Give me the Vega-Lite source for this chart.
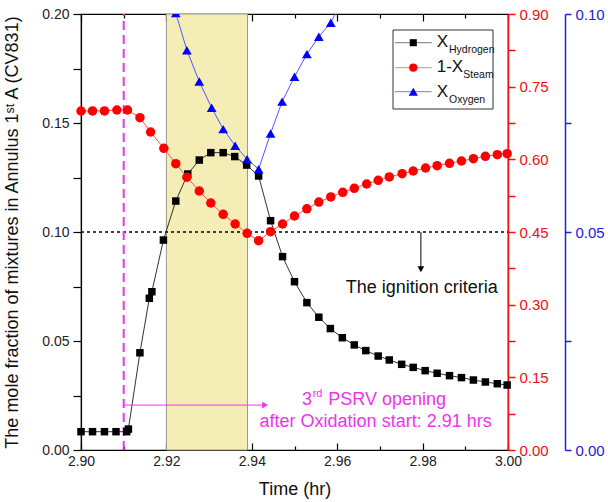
{
  "$schema": "https://vega.github.io/schema/vega-lite/v6.json",
  "width": 427,
  "height": 436,
  "autosize": {"type": "none"},
  "padding": {"left": 81, "top": 14, "right": 100, "bottom": 52},
  "config": {
    "view": {"stroke": "#000", "strokeWidth": 1.2},
    "font": "Liberation Sans",
    "axis": {
      "labelFont": "Liberation Sans",
      "titleFont": "Liberation Sans",
      "grid": false,
      "labelFontSize": 14,
      "titleFontSize": 18,
      "titleFontWeight": "normal",
      "labelColor": "#222",
      "titleColor": "#111",
      "domainColor": "#000",
      "tickColor": "#000",
      "domainWidth": 1.2,
      "tickWidth": 1.2,
      "labelOverlap": false,
      "labelFlush": false
    }
  },
  "datasets": {
    "h2": [
      {"t": 2.9000, "v": 0.0084}, {"t": 2.9027, "v": 0.0084}, {"t": 2.9055, "v": 0.0084}, {"t": 2.9082, "v": 0.0084},
      {"t": 2.9107, "v": 0.0084}, {"t": 2.9111, "v": 0.0096}, {"t": 2.9138, "v": 0.0446}, {"t": 2.9160, "v": 0.0696},
      {"t": 2.9166, "v": 0.0726}, {"t": 2.9193, "v": 0.0963}, {"t": 2.9222, "v": 0.1142}, {"t": 2.9250, "v": 0.1266},
      {"t": 2.9277, "v": 0.1330}, {"t": 2.9304, "v": 0.1364}, {"t": 2.9333, "v": 0.1364}, {"t": 2.9360, "v": 0.1346},
      {"t": 2.9388, "v": 0.1307}, {"t": 2.9416, "v": 0.1257}, {"t": 2.9444, "v": 0.1052}, {"t": 2.9472, "v": 0.0887},
      {"t": 2.9500, "v": 0.0772}, {"t": 2.9529, "v": 0.0676}, {"t": 2.9557, "v": 0.0609}, {"t": 2.9584, "v": 0.0557},
      {"t": 2.9612, "v": 0.0515}, {"t": 2.9640, "v": 0.0482}, {"t": 2.9667, "v": 0.0456}, {"t": 2.9696, "v": 0.0431},
      {"t": 2.9722, "v": 0.0413}, {"t": 2.9751, "v": 0.0393}, {"t": 2.9778, "v": 0.0379}, {"t": 2.9806, "v": 0.0364},
      {"t": 2.9834, "v": 0.0352}, {"t": 2.9863, "v": 0.0341}, {"t": 2.9891, "v": 0.0332}, {"t": 2.9919, "v": 0.0321},
      {"t": 2.9947, "v": 0.0312}, {"t": 2.9975, "v": 0.0304}, {"t": 2.9998, "v": 0.0298}
    ],
    "steam": [
      {"t": 2.9000, "v": 0.6998}, {"t": 2.9027, "v": 0.7000}, {"t": 2.9055, "v": 0.7000}, {"t": 2.9084, "v": 0.7018},
      {"t": 2.9109, "v": 0.7018}, {"t": 2.9138, "v": 0.6860}, {"t": 2.9163, "v": 0.6564}, {"t": 2.9194, "v": 0.6228},
      {"t": 2.9222, "v": 0.5910}, {"t": 2.9248, "v": 0.5630}, {"t": 2.9277, "v": 0.5346}, {"t": 2.9304, "v": 0.5099},
      {"t": 2.9333, "v": 0.4865}, {"t": 2.9361, "v": 0.4665}, {"t": 2.9389, "v": 0.4473}, {"t": 2.9416, "v": 0.4320},
      {"t": 2.9444, "v": 0.4506}, {"t": 2.9472, "v": 0.4665}, {"t": 2.9500, "v": 0.4830}, {"t": 2.9529, "v": 0.4978},
      {"t": 2.9557, "v": 0.5117}, {"t": 2.9585, "v": 0.5223}, {"t": 2.9613, "v": 0.5320}, {"t": 2.9640, "v": 0.5402},
      {"t": 2.9669, "v": 0.5491}, {"t": 2.9696, "v": 0.5567}, {"t": 2.9722, "v": 0.5636}, {"t": 2.9752, "v": 0.5704},
      {"t": 2.9778, "v": 0.5759}, {"t": 2.9807, "v": 0.5821}, {"t": 2.9834, "v": 0.5869}, {"t": 2.9863, "v": 0.5918},
      {"t": 2.9891, "v": 0.5966}, {"t": 2.9919, "v": 0.6013}, {"t": 2.9947, "v": 0.6063}, {"t": 2.9975, "v": 0.6096},
      {"t": 2.9998, "v": 0.6116}
    ],
    "o2": [
      {"t": 2.9194, "v": 0.1090}, {"t": 2.9222, "v": 0.1002}, {"t": 2.9248, "v": 0.0917}, {"t": 2.9277, "v": 0.0845},
      {"t": 2.9306, "v": 0.0785}, {"t": 2.9333, "v": 0.0736}, {"t": 2.9361, "v": 0.0698}, {"t": 2.9389, "v": 0.0667},
      {"t": 2.9416, "v": 0.0644}, {"t": 2.9444, "v": 0.0726}, {"t": 2.9471, "v": 0.0799}, {"t": 2.9500, "v": 0.0856},
      {"t": 2.9529, "v": 0.0908}, {"t": 2.9557, "v": 0.0948}, {"t": 2.9585, "v": 0.0980}, {"t": 2.9613, "v": 0.1035}
    ],
    "band": [{"t1": 2.92, "t2": 2.939, "y1": 0, "y2": 0.2}],
    "criteria": [{"t1": 2.90, "t2": 3.00, "v": 0.10}],
    "opening": [{"t": 2.91, "v1": 0, "v2": 0.2}],
    "psrvArrow": [{"t1": 2.91, "t2": 2.9431, "v": 0.0206}],
    "ignArrow": [{"t": 2.9796, "v1": 0.1, "v2": 0.0832}],
    "psrvHead": [{"t": 2.9431, "v": 0.0206}],
    "ignHead": [{"t": 2.9796, "v": 0.0829}],
    "ignText": [{"t": 2.9798, "v": 0.0719, "label": "The ignition criteria"}],
    "magCenter": [{"t": 2.9690, "v": 0.0107, "label": "after Oxidation start: 2.91 hrs"}],
    "magRight": [{"t": 2.9541, "v": 0.0206, "label": "3"}],
    "magLeft": [{"t": 2.9579, "v": 0.0206, "label": "PSRV opening"}],
    "supText": [{"t": 2.95426, "v": 0.0241, "label": "rd"}],
    "legendBox": [{"t1": 2.97307, "t2": 2.99649, "v1": 0.15642, "v2": 0.19266}],
    "legendKey": [
      {"s": "h", "t1": 2.97354, "t2": 2.98213, "tm": 2.97782, "v": 0.18683},
      {"s": "s", "t1": 2.97354, "t2": 2.98213, "tm": 2.97782, "v": 0.17537},
      {"s": "o", "t1": 2.97354, "t2": 2.98213, "tm": 2.97782, "v": 0.16436}
    ],
    "legendMain": [
      {"t": 2.98330, "v": 0.18500, "label": "X"},
      {"t": 2.98330, "v": 0.17353, "label": "1-X"},
      {"t": 2.98330, "v": 0.16206, "label": "X"}
    ],
    "legendSub": [
      {"t": 2.98618, "v": 0.18197, "label": "Hydrogen"},
      {"t": 2.98953, "v": 0.17050, "label": "Steam"},
      {"t": 2.98618, "v": 0.15903, "label": "Oxygen"}
    ]
  },
  "layer": [
    {
      "data": {"name": "band"},
      "mark": {"type": "rect", "fill": "#F4EDB6", "stroke": "#9a9a8a", "strokeWidth": 1},
      "encoding": {
        "x": {"field": "t1", "type": "quantitative", "scale": {"domain": [2.9, 3.0], "nice": false, "zero": false},
          "axis": {"orient": "top", "title": null, "labels": false, "domain": false,
            "values": [2.90, 2.91, 2.92, 2.93, 2.94, 2.95, 2.96, 2.97, 2.98, 2.99, 3.00],
            "tickSize": {"condition": {"test": "round(datum.value*100) % 2 == 0", "value": -7}, "value": -4}}},
        "x2": {"field": "t2"},
        "y": {"field": "y1", "type": "quantitative", "scale": {"domain": [0, 0.2], "nice": false, "zero": false}, "axis": null},
        "y2": {"field": "y2"}
      }
    },
    {
      "data": {"name": "criteria"},
      "mark": {"type": "rule", "color": "#000", "strokeWidth": 1.5, "strokeDash": [3, 3]},
      "encoding": {
        "x": {"field": "t1", "type": "quantitative", "axis": null},
        "x2": {"field": "t2"},
        "y": {"field": "v", "type": "quantitative", "scale": {"domain": [0, 0.2], "nice": false, "zero": false}, "axis": null}
      }
    },
    {
      "data": {"name": "opening"},
      "mark": {"type": "rule", "color": "#EE33EE", "strokeWidth": 2, "strokeDash": [9, 5]},
      "encoding": {
        "x": {"field": "t", "type": "quantitative", "axis": null},
        "y": {"field": "v1", "type": "quantitative", "scale": {"domain": [0, 0.2], "nice": false, "zero": false}, "axis": null},
        "y2": {"field": "v2"}
      }
    },
    {
      "data": {"name": "h2"},
      "mark": {"type": "line", "color": "#333", "strokeWidth": 1},
      "encoding": {
        "x": {"field": "t", "type": "quantitative", "axis": null},
        "y": {"field": "v", "type": "quantitative", "scale": {"domain": [0, 0.2], "nice": false, "zero": false}, "axis": null}
      }
    },
    {
      "data": {"name": "h2"},
      "mark": {"type": "point", "shape": "square", "filled": true, "color": "#000", "size": 56, "opacity": 1},
      "encoding": {
        "x": {"field": "t", "type": "quantitative",
          "axis": {"orient": "bottom", "title": "Time (hr)",
            "values": [2.90, 2.91, 2.92, 2.93, 2.94, 2.95, 2.96, 2.97, 2.98, 2.99, 3.00],
            "labelExpr": "round(datum.value*100) % 2 == 0 ? format(datum.value, '.2f') : ''",
            "tickSize": {"condition": {"test": "round(datum.value*100) % 2 == 0", "value": -7}, "value": -4},
            "labelPadding": 11, "titlePadding": 9}},
        "y": {"field": "v", "type": "quantitative", "scale": {"domain": [0, 0.2], "nice": false, "zero": false},
          "axis": {"orient": "left", "title": "The mole fraction of mixtures in Annulus 1ˢᵗ A (CV831)",
            "values": [0, 0.025, 0.05, 0.075, 0.1, 0.125, 0.15, 0.175, 0.2],
            "labelExpr": "round(datum.value*40) % 2 == 0 ? format(datum.value, '.2f') : ''",
            "tickSize": 8,
            "labelPadding": 4, "titlePadding": 20}}
      }
    },
    {
      "data": {"name": "steam"},
      "mark": {"type": "line", "color": "#FF5555", "strokeWidth": 1},
      "encoding": {
        "x": {"field": "t", "type": "quantitative", "axis": null},
        "y": {"field": "v", "type": "quantitative", "scale": {"domain": [0, 0.9], "nice": false, "zero": false},
          "axis": {"orient": "right", "title": null,
            "values": [0, 0.075, 0.15, 0.225, 0.3, 0.375, 0.45, 0.525, 0.6, 0.675, 0.75, 0.825, 0.9],
            "labelExpr": "abs(datum.value/0.15 - round(datum.value/0.15)) < 0.01 ? format(datum.value, '.2f') : ''",
            "tickSize": 7,
            "labelColor": "#F01010", "tickColor": "#F01010", "domainColor": "#F01010",
            "labelFontSize": 15, "labelPadding": 4, "domainWidth": 1.5, "tickWidth": 1.5}}
      }
    },
    {
      "data": {"name": "steam"},
      "mark": {"type": "point", "shape": "circle", "filled": true, "color": "#FF0000", "size": 90, "opacity": 1},
      "encoding": {
        "x": {"field": "t", "type": "quantitative", "axis": null},
        "y": {"field": "v", "type": "quantitative", "scale": {"domain": [0, 0.9], "nice": false, "zero": false}, "axis": null}
      }
    },
    {
      "data": {"name": "o2"},
      "mark": {"type": "line", "color": "#5555FF", "strokeWidth": 1, "clip": true},
      "encoding": {
        "x": {"field": "t", "type": "quantitative", "axis": null},
        "y": {"field": "v", "type": "quantitative", "scale": {"domain": [0, 0.1], "nice": false, "zero": false},
          "axis": {"orient": "right", "offset": 57, "title": null,
            "values": [0, 0.025, 0.05, 0.075, 0.1],
            "labelExpr": "round(datum.value*40) % 2 == 0 ? format(datum.value, '.2f') : ''",
            "tickSize": 6,
            "labelColor": "#2020E0", "tickColor": "#2020E0", "domainColor": "#2020E0",
            "labelFontSize": 15, "labelPadding": 4, "domainWidth": 1.5, "tickWidth": 1.5}}
      }
    },
    {
      "data": {"name": "o2"},
      "mark": {"type": "point", "shape": "triangle-up", "filled": true, "color": "#0000FF", "size": 95, "opacity": 1, "clip": true},
      "encoding": {
        "x": {"field": "t", "type": "quantitative", "axis": null},
        "y": {"field": "v", "type": "quantitative", "scale": {"domain": [0, 0.1], "nice": false, "zero": false}, "axis": null}
      }
    },
    {
      "data": {"name": "psrvArrow"},
      "mark": {"type": "rule", "strokeWidth": 1, "color": "#EE33EE"},
      "encoding": {
        "x": {"field": "t1", "type": "quantitative", "axis": null},
        "x2": {"field": "t2"},
        "y": {"field": "v", "type": "quantitative", "scale": {"domain": [0, 0.2], "nice": false, "zero": false}, "axis": null}
      }
    },
    {
      "data": {"name": "psrvHead"},
      "mark": {"type": "point", "shape": "triangle-right", "filled": true, "size": 45, "opacity": 1, "color": "#EE33EE"},
      "encoding": {
        "x": {"field": "t", "type": "quantitative", "axis": null},
        "y": {"field": "v", "type": "quantitative", "scale": {"domain": [0, 0.2], "nice": false, "zero": false}, "axis": null}
      }
    },
    {
      "data": {"name": "ignArrow"},
      "mark": {"type": "rule", "strokeWidth": 1, "color": "#000"},
      "encoding": {
        "x": {"field": "t", "type": "quantitative", "axis": null},
        "y": {"field": "v1", "type": "quantitative", "scale": {"domain": [0, 0.2], "nice": false, "zero": false}, "axis": null},
        "y2": {"field": "v2"}
      }
    },
    {
      "data": {"name": "ignHead"},
      "mark": {"type": "point", "shape": "triangle-down", "filled": true, "size": 45, "opacity": 1, "color": "#000"},
      "encoding": {
        "x": {"field": "t", "type": "quantitative", "axis": null},
        "y": {"field": "v", "type": "quantitative", "scale": {"domain": [0, 0.2], "nice": false, "zero": false}, "axis": null}
      }
    },
    {
      "data": {"name": "ignText"},
      "mark": {"type": "text", "fontSize": 18, "font": "Liberation Sans", "baseline": "alphabetic", "align": "center", "color": "#111"},
      "encoding": {
        "x": {"field": "t", "type": "quantitative", "axis": null},
        "y": {"field": "v", "type": "quantitative", "scale": {"domain": [0, 0.2], "nice": false, "zero": false}, "axis": null},
        "text": {"field": "label"}
      }
    },
    {
      "data": {"name": "magCenter"},
      "mark": {"type": "text", "fontSize": 18, "font": "Liberation Sans", "baseline": "alphabetic", "align": "center", "color": "#EE33EE"},
      "encoding": {
        "x": {"field": "t", "type": "quantitative", "axis": null},
        "y": {"field": "v", "type": "quantitative", "scale": {"domain": [0, 0.2], "nice": false, "zero": false}, "axis": null},
        "text": {"field": "label"}
      }
    },
    {
      "data": {"name": "magRight"},
      "mark": {"type": "text", "fontSize": 18, "font": "Liberation Sans", "baseline": "alphabetic", "align": "right", "color": "#EE33EE"},
      "encoding": {
        "x": {"field": "t", "type": "quantitative", "axis": null},
        "y": {"field": "v", "type": "quantitative", "scale": {"domain": [0, 0.2], "nice": false, "zero": false}, "axis": null},
        "text": {"field": "label"}
      }
    },
    {
      "data": {"name": "magLeft"},
      "mark": {"type": "text", "fontSize": 18, "font": "Liberation Sans", "baseline": "alphabetic", "align": "left", "color": "#EE33EE"},
      "encoding": {
        "x": {"field": "t", "type": "quantitative", "axis": null},
        "y": {"field": "v", "type": "quantitative", "scale": {"domain": [0, 0.2], "nice": false, "zero": false}, "axis": null},
        "text": {"field": "label"}
      }
    },
    {
      "data": {"name": "supText"},
      "mark": {"type": "text", "fontSize": 11, "font": "Liberation Sans", "baseline": "alphabetic", "align": "left", "color": "#EE33EE"},
      "encoding": {
        "x": {"field": "t", "type": "quantitative", "axis": null},
        "y": {"field": "v", "type": "quantitative", "scale": {"domain": [0, 0.2], "nice": false, "zero": false}, "axis": null},
        "text": {"field": "label"}
      }
    },
    {
      "data": {"name": "legendBox"},
      "mark": {"type": "rect", "fill": "#fff", "stroke": "#333", "strokeWidth": 1},
      "encoding": {
        "x": {"field": "t1", "type": "quantitative", "axis": null},
        "x2": {"field": "t2"},
        "y": {"field": "v1", "type": "quantitative", "scale": {"domain": [0, 0.2], "nice": false, "zero": false}, "axis": null},
        "y2": {"field": "v2"}
      }
    },
    {
      "data": {"name": "legendKey"},
      "mark": {"type": "rule", "strokeWidth": 1},
      "encoding": {
        "x": {"field": "t1", "type": "quantitative", "axis": null},
        "x2": {"field": "t2"},
        "y": {"field": "v", "type": "quantitative", "scale": {"domain": [0, 0.2], "nice": false, "zero": false}, "axis": null},
        "color": {"field": "s", "type": "nominal", "scale": {"domain": ["h", "s", "o"], "range": ["#777", "#FF7777", "#7777FF"]}, "legend": null}
      }
    },
    {
      "data": {"name": "legendKey"},
      "mark": {"type": "point", "filled": true, "opacity": 1},
      "encoding": {
        "x": {"field": "tm", "type": "quantitative", "axis": null},
        "y": {"field": "v", "type": "quantitative", "scale": {"domain": [0, 0.2], "nice": false, "zero": false}, "axis": null},
        "shape": {"field": "s", "type": "nominal", "scale": {"domain": ["h", "s", "o"], "range": ["square", "circle", "triangle-up"]}, "legend": null},
        "size": {"field": "s", "type": "nominal", "scale": {"domain": ["h", "s", "o"], "range": [50, 85, 90]}, "legend": null},
        "color": {"field": "s", "type": "nominal", "scale": {"domain": ["h", "s", "o"], "range": ["#000", "#FF0000", "#0000FF"]}, "legend": null}
      }
    },
    {
      "data": {"name": "legendMain"},
      "mark": {"type": "text", "fontSize": 17, "font": "Liberation Sans", "baseline": "alphabetic", "align": "left", "color": "#111"},
      "encoding": {
        "x": {"field": "t", "type": "quantitative", "axis": null},
        "y": {"field": "v", "type": "quantitative", "scale": {"domain": [0, 0.2], "nice": false, "zero": false}, "axis": null},
        "text": {"field": "label"}
      }
    },
    {
      "data": {"name": "legendSub"},
      "mark": {"type": "text", "fontSize": 10.5, "font": "Liberation Sans", "baseline": "alphabetic", "align": "left", "color": "#111"},
      "encoding": {
        "x": {"field": "t", "type": "quantitative", "axis": null},
        "y": {"field": "v", "type": "quantitative", "scale": {"domain": [0, 0.2], "nice": false, "zero": false}, "axis": null},
        "text": {"field": "label"}
      }
    }
  ],
  "resolve": {"scale": {"y": "independent", "color": "independent", "shape": "independent", "size": "independent"}, "axis": {"y": "independent"}}
}
